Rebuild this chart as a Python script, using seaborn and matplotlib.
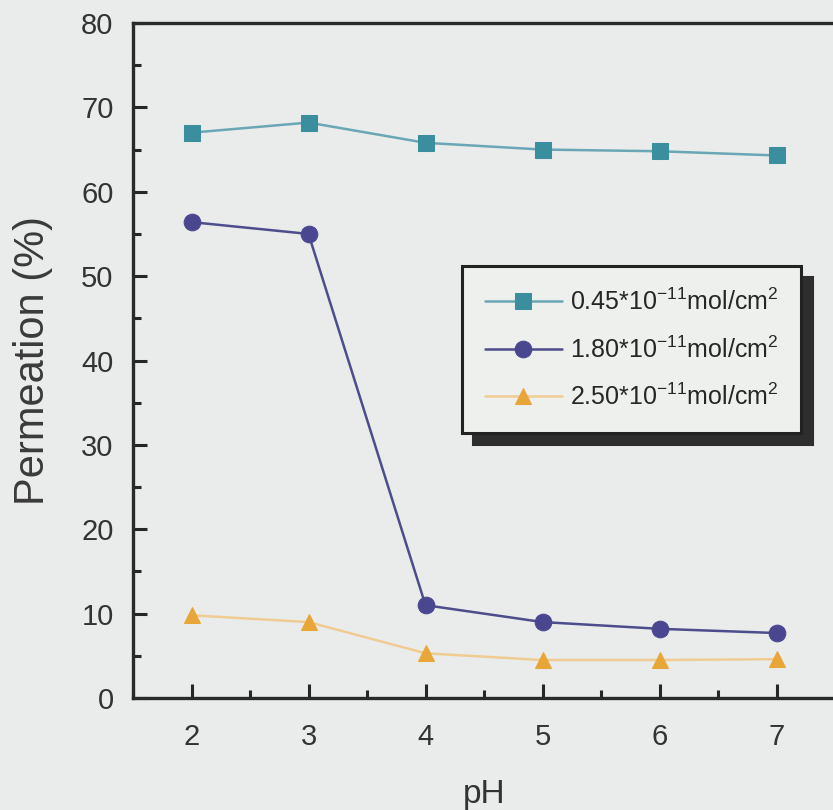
import matplotlib
matplotlib.use("Agg")
import matplotlib.pyplot as plt
import seaborn as sns
import pandas as pd
from matplotlib.ticker import MultipleLocator

ph = [2, 3, 4, 5, 6, 7]
series_labels = [
    "0.45*10$^{-11}$mol/cm$^{2}$",
    "1.80*10$^{-11}$mol/cm$^{2}$",
    "2.50*10$^{-11}$mol/cm$^{2}$",
]
perm_045 = [67.0, 68.2, 65.8, 65.0, 64.8, 64.3]
perm_180 = [56.4, 55.0, 11.0, 9.0, 8.2, 7.7]
perm_250 = [9.8, 9.0, 5.3, 4.5, 4.5, 4.6]

df = pd.concat([
    pd.DataFrame({"pH": ph, "Permeation": perm_045, "series": series_labels[0]}),
    pd.DataFrame({"pH": ph, "Permeation": perm_180, "series": series_labels[1]}),
    pd.DataFrame({"pH": ph, "Permeation": perm_250, "series": series_labels[2]}),
])

sns.set_theme(style="ticks")
plt.rcParams['font.family'] = ['Liberation Sans', 'DejaVu Sans']
plt.rcParams['mathtext.fontset'] = 'custom'
plt.rcParams['mathtext.rm'] = 'Liberation Sans'
plt.rcParams['mathtext.it'] = 'Liberation Sans'

bg = "#e9ecea"
fig = plt.figure(figsize=(8.33, 8.10), dpi=100, facecolor=bg)
ax = fig.add_axes([133/833, 112/810, 702/833, 675/810])
ax.set_facecolor(bg)

line_colors = ["#6aa6b6", "#4d4d8c", "#f0cc94"]
marker_colors = ["#3b8e9e", "#4a4790", "#e8a638"]
markers = ["s", "o", "^"]

sns.lineplot(data=df, x="pH", y="Permeation", hue="series", style="series",
             palette=dict(zip(series_labels, line_colors)),
             markers=dict(zip(series_labels, markers)),
             dashes=False, linewidth=1.8, markersize=12, ax=ax)

for line, mc in zip(ax.lines[:3], marker_colors):
    line.set_markerfacecolor(mc)
    line.set_markeredgecolor(mc)

ax.set_xlim(1.5, 7.5)
ax.set_ylim(0, 80)
ax.xaxis.set_major_locator(MultipleLocator(1))
ax.xaxis.set_minor_locator(MultipleLocator(0.5))
ax.yaxis.set_major_locator(MultipleLocator(10))
ax.yaxis.set_minor_locator(MultipleLocator(5))
ax.tick_params(which="major", direction="in", length=10, width=2.2, labelsize=21,
               labelcolor="#333333")
ax.tick_params(axis="x", which="major", pad=18)
ax.tick_params(axis="y", which="major", pad=14)
ax.tick_params(which="minor", direction="in", length=6, width=2.2)
for s in ax.spines.values():
    s.set_linewidth(2.4)
    s.set_color("#2a2a2a")

ax.set_xlabel("pH", fontsize=24, color="#333333", labelpad=20)
ax.set_ylabel("Permeation (%)", fontsize=30, color="#3a3a3a", labelpad=20)

handles, labels = ax.get_legend_handles_labels()
for h, mc in zip(handles, marker_colors):
    h.set_markerfacecolor(mc)
    h.set_markeredgecolor(mc)
leg = ax.legend(handles, labels, loc="upper left", bbox_to_anchor=(0.469, 0.640),
                fontsize=18, frameon=True, fancybox=False,
                shadow={"color": "#2e2e2e", "alpha": 1, "ox": 8, "oy": -8},
                edgecolor="#222222", facecolor="#eef0ee", borderpad=0.9,
                handlelength=3.1, labelspacing=0.85, handletextpad=0.3,
                borderaxespad=0)
leg.get_frame().set_linewidth(2.2)
leg.get_frame().set_alpha(1)

fig.savefig("out.png", dpi=100, facecolor=bg)
